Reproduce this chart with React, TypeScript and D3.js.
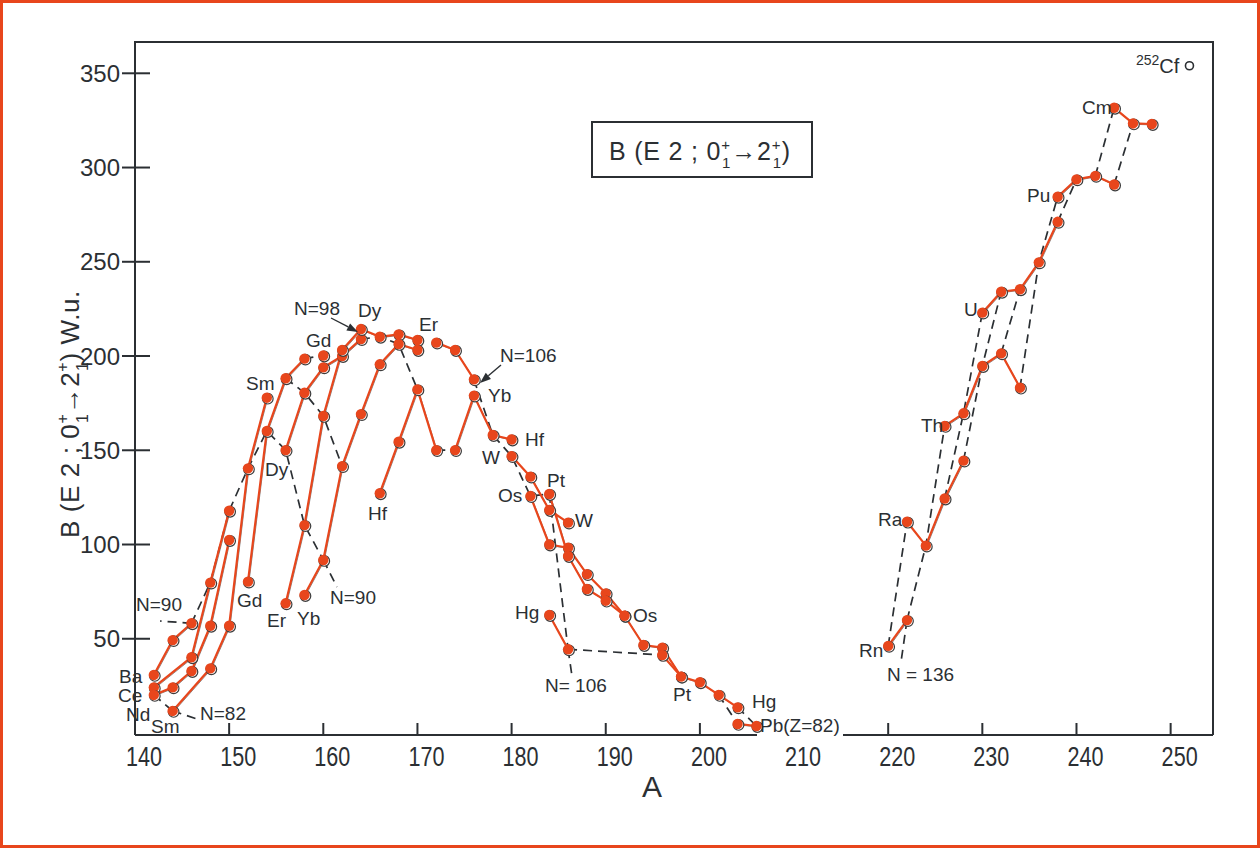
import React from "react";
import * as d3 from "d3";

type Pt = [number, number];

// ── B(E2; 0+ -> 2+) in W.u., one array per isotope chain: [A, B(E2)] ──
const BA: Pt[] = [[142, 30.8], [144, 49.3], [146, 58.2]];
const CE: Pt[] = [[142, 24.2], [146, 40.2], [148, 79.8], [150, 117.9]];
const ND: Pt[] = [[142, 20.2], [144, 24.2], [146, 32.9], [148, 56.9], [150, 102.4]];
const SM: Pt[] = [[144, 11.7], [148, 34.3], [150, 56.9], [152, 140.4], [154, 177.9]];
const GD: Pt[] = [[152, 80.3], [154, 160.2], [156, 188.2], [158, 198.6]];
const GD_160: Pt[] = [[160, 200.3]];
const DY: Pt[] = [[156, 150.1], [158, 180.5], [160, 194], [162, 200], [164, 209]];
const ER: Pt[] = [[156, 68.8], [158, 110.3], [160, 168.2], [162, 203.2], [164, 214.3], [166, 210.2], [168, 211.5], [170, 208.5]];
const YB: Pt[] = [[158, 73.2], [160, 91.8], [162, 141.6], [164, 169.2], [166, 195.6], [168, 206.4], [170, 203.2]];
const YB_HEAVY: Pt[] = [[172, 207.1], [174, 203.2], [176, 187.6]];
const HF_LIGHT: Pt[] = [[166, 127.2], [168, 154.5], [170, 182.3], [172, 150.1]];
const HF_HEAVY: Pt[] = [[174, 150.1], [176, 179], [178, 158.1], [180, 155.7]];
const W_: Pt[] = [[180, 146.9], [182, 136], [184, 118.3], [186, 111.6]];
const OS: Pt[] = [[182, 125.7], [184, 100], [186, 98.3], [188, 84.3], [190, 74.1], [192, 62.2]];
const PT: Pt[] = [[184, 126.8], [186, 93.9], [188, 76.4], [190, 70.2], [192, 62.2], [194, 46.7], [196, 45.3], [198, 29.9]];
const HG_LIGHT: Pt[] = [[184, 62.6], [186, 44.4]];
const HG_HEAVY: Pt[] = [[196, 41.4], [198, 29.9], [200, 26.9], [202, 20.2], [204, 13.6]];
const PB: Pt[] = [[204, 4.8], [206, 3.7]];

const RN: Pt[] = [[220, 46.2], [222, 59.9]];
const RA: Pt[] = [[222, 112.1], [224, 99.4], [226, 124.4], [228, 144.5]];
const TH: Pt[] = [[226, 162.9], [228, 169.6], [230, 194.7], [232, 201.4], [234, 183.2]];
const U_: Pt[] = [[230, 223], [232, 234.1], [234, 235.4], [236, 249.7], [238, 271.2]];
const PU: Pt[] = [[238, 284.5], [240, 293.7], [242, 295.6], [244, 291]];
const CM: Pt[] = [[244, 331.7], [246, 323.4], [248, 323.1]];
const CF_252: Pt = [252, 354];

const CHAINS = [BA, CE, ND, SM, GD, DY, ER, YB, YB_HEAVY, HF_LIGHT, HF_HEAVY, W_, OS, PT,
  HG_LIGHT, HG_HEAVY, PB, RN, RA, TH, U_, PU, CM];
const LONE = [GD_160];

// isotones (constant N) and gaps, drawn dashed through the chain points
const DASHED: Pt[][] = [
  [ND[0], SM[0]],                                                       // N=82
  [BA[2], CE[2], CE[3], SM[3], GD[1], DY[0], ER[1], YB[1]],             // N=90
  [GD[2], DY[1], ER[2], YB[2]],                                         // N=92
  [DY[4], ER[5], YB[5], HF_LIGHT[2]],                                   // N=98
  [YB_HEAVY[2], HF_HEAVY[2], W_[0], OS[0], PT[0], HG_LIGHT[1]],         // N=106
  [GD[3], GD_160[0]],
  [HF_LIGHT[3], HF_HEAVY[0]],
  [HG_LIGHT[1], HG_HEAVY[0]],
  [HG_HEAVY[3], PB[0]],
  [HG_HEAVY[4], PB[1]],
  [RN[0], RA[0]],
  [RN[1], RA[1], TH[0]],
  [RA[2], TH[1], U_[0]],
  [RA[3], TH[2], U_[1]],
  [TH[3], U_[2]],
  [TH[4], U_[3], PU[0]],
  [U_[4], PU[1]],
  [PU[2], CM[0]],
  [PU[3], CM[1]],
];

const X_TICKS = [140, 150, 160, 170, 180, 190, 200, 210, 220, 230, 240, 250];
const X_TICK_MARKS = [150, 160, 170, 180, 190, 200, 220, 230, 240, 250];
const Y_TICKS = [50, 100, 150, 200, 250, 300, 350];

// element / isotone labels (left, baseline in px)
const LABELS: { t: string; x: number; y: number }[] = [
  { t: "Ba", x: 119, y: 683 }, { t: "Ce", x: 118, y: 702 }, { t: "Nd", x: 126, y: 721 },
  { t: "Sm", x: 151, y: 733 }, { t: "N=82", x: 200, y: 720 }, { t: "N=90", x: 136, y: 611 },
  { t: "Gd", x: 237, y: 607 }, { t: "Er", x: 267, y: 627 }, { t: "Yb", x: 297, y: 625 },
  { t: "N=90", x: 330, y: 604 }, { t: "Sm", x: 246, y: 390 }, { t: "Dy", x: 265, y: 476 },
  { t: "Gd", x: 306, y: 347 }, { t: "N=98", x: 294, y: 315 }, { t: "Dy", x: 358, y: 317 },
  { t: "Er", x: 419, y: 331 }, { t: "Hf", x: 368, y: 520 }, { t: "N=106", x: 500, y: 362 },
  { t: "Yb", x: 488, y: 402 }, { t: "Hf", x: 525, y: 446 }, { t: "W", x: 482, y: 464 },
  { t: "Os", x: 498, y: 502 }, { t: "Pt", x: 547, y: 487 }, { t: "W", x: 575, y: 527 },
  { t: "Hg", x: 515, y: 619 }, { t: "N= 106", x: 545, y: 692 }, { t: "Os", x: 633, y: 622 },
  { t: "Pt", x: 673, y: 701 }, { t: "Hg", x: 752, y: 708 }, { t: "Pb(Z=82)", x: 760, y: 732 },
  { t: "Rn", x: 859, y: 657 }, { t: "N = 136", x: 887, y: 681 }, { t: "Ra", x: 878, y: 526 },
  { t: "Th", x: 921, y: 432 }, { t: "U", x: 964, y: 316 }, { t: "Pu", x: 1027, y: 202 },
  { t: "Cm", x: 1082, y: 114 },
];

const ORANGE = "#e8461c";
const INK = "#2b2f33";
const FONT = "Liberation Sans, Arial, sans-serif";

const x = d3.scaleLinear().domain([140, 254.5]).range([135, 1213]);
const y = d3.scaleLinear().domain([0, 366.6]).range([733, 42]);
const line = d3.line<Pt>().x(d => x(d[0])).y(d => y(d[1]));

const Arrow = ({ x1, y1, x2, y2 }: { x1: number; y1: number; x2: number; y2: number }) => {
  const a = Math.atan2(y2 - y1, x2 - x1);
  const L = 11, w = 4;
  const bx = x2 - L * Math.cos(a), by = y2 - L * Math.sin(a);
  const p = `M${x2},${y2}L${bx - w * Math.sin(a)},${by + w * Math.cos(a)}L${bx + w * Math.sin(a)},${by - w * Math.cos(a)}Z`;
  return (
    <g>
      <line x1={x1} y1={y1} x2={bx} y2={by} stroke={INK} strokeWidth={1.4} />
      <path d={p} fill={INK} />
    </g>
  );
};

const Leader = ({ from, tx, ty }: { from: Pt; tx: number; ty: number }) => (
  <line x1={x(from[0])} y1={y(from[1])} x2={tx} y2={ty}
    stroke={INK} strokeWidth={1.7} strokeDasharray="9,6" />
);

// B(E2; 0_1^+ -> 2_1^+) with stacked sub/superscripts
const TitleSpans = ({ size }: { size: number }) => {
  const s = Math.round(size * 0.6);
  const up = size * 0.42, down = size * 0.75;
  const back = -s * 0.58;
  return (
    <>
      <tspan>B (E 2 ; 0</tspan>
      <tspan fontSize={s} dy={-up}>+</tspan>
      <tspan fontSize={s} dx={back} dy={down}>1</tspan>
      <tspan dy={up - down} fontWeight="bold">→</tspan>
      <tspan>2</tspan>
      <tspan fontSize={s} dy={-up}>+</tspan>
      <tspan fontSize={s} dx={back} dy={down}>1</tspan>
      <tspan dy={up - down}>)</tspan>
    </>
  );
};

export default function App() {
  const allPts: Pt[] = [...CHAINS.flat(), ...LONE.flat()];
  return (
    <svg width={1260} height={848} style={{ position: "absolute", left: 0, top: 0, background: "#fff" }}
      fontFamily={FONT}>
      <rect x={1.5} y={1.5} width={1257} height={845} fill="#fff" stroke={ORANGE} strokeWidth={3} />

      {/* ── frame & axes ─────────────────────────────────── */}
      <g stroke={INK} strokeWidth={2} fill="none">
        <path d={`M135,735V42H1213V735`} />
        <line x1={135} y1={735} x2={757} y2={735} />
        <line x1={843} y1={735} x2={1213} y2={735} />
        {Y_TICKS.map(v => <line key={v} x1={122} x2={150} y1={y(v)} y2={y(v)} />)}
        {X_TICK_MARKS.map(v => <line key={v} x1={x(v)} x2={x(v)} y1={735} y2={723} />)}
      </g>
      {Y_TICKS.map(v => (
        <text key={v} x={120} y={y(v) + 8.5} textAnchor="end" fontSize={24} fill={INK}>{v}</text>
      ))}
      {X_TICKS.map(v => (
        <text key={v} transform={`translate(${x(v) + 9},766) scale(0.8,1)`} textAnchor="middle"
          fontSize={27} fill={INK}>{v}</text>
      ))}
      <text x={652} y={797} textAnchor="middle" fontSize={30} fill={INK}>A</text>
      <text transform="translate(79,414) rotate(-90)" textAnchor="middle" fontSize={26} fill={INK}
        letterSpacing={0.6}>
        <TitleSpans size={26} />
        <tspan> W.u.</tspan>
      </text>

      {/* ── legend box ───────────────────────────────────── */}
      <rect x={592} y={122} width={220} height={55} fill="none" stroke={INK} strokeWidth={2} />
      <text x={609} y={160} fontSize={25} fill={INK} letterSpacing={0.8}><TitleSpans size={25} /></text>

      {/* ── isotone dashed lines ─────────────────────────── */}
      <g fill="none" stroke={INK} strokeWidth={1.7} strokeDasharray="9,6">
        {DASHED.map((d, i) => <path key={i} d={line(d) || ""} />)}
      </g>
      <Leader from={BA[2]} tx={160} ty={621} />
      <Leader from={SM[0]} tx={197} ty={719} />
      <Leader from={YB[1]} tx={337} ty={587} />
      <Leader from={HG_LIGHT[1]} tx={572} ty={676} />
      <Leader from={RN[1]} tx={901} ty={662} />

      {/* ── isotope chains ───────────────────────────────── */}
      <g fill="none">
        {CHAINS.map((c, i) => (
          <path key={"s" + i} d={line(c) || ""} transform="translate(0.9,0.9)" stroke="#555" strokeWidth={1} opacity={0.7} />
        ))}
        {CHAINS.map((c, i) => (
          <path key={"c" + i} d={line(c) || ""} stroke={ORANGE} strokeWidth={2.2} strokeLinejoin="round" />
        ))}
      </g>
      <g>
        {allPts.map((d, i) => (
          <g key={i}>
            <circle cx={x(d[0]) + 1} cy={y(d[1]) + 1} r={5.3} fill="#fff" stroke="#3c3c3c" strokeWidth={1.2} />
            <circle cx={x(d[0])} cy={y(d[1])} r={5.2} fill={ORANGE} />
          </g>
        ))}
      </g>
      <circle cx={x(CF_252[0])} cy={y(CF_252[1])} r={4} fill="#fff" stroke={INK} strokeWidth={1.6} />
      <text x={1136} y={73} fontSize={20} fill={INK}>
        <tspan fontSize={14} dy={-8}>252</tspan><tspan dy={8}>Cf</tspan>
      </text>

      {/* ── labels & arrows ──────────────────────────────── */}
      {LABELS.map((l, i) => (
        <text key={i} x={l.x} y={l.y} fontSize={19} fill={INK}>{l.t}</text>
      ))}
      <Arrow x1={331} y1={318} x2={358} y2={332} />
      <Arrow x1={501} y1={365} x2={480} y2={383} />
    </svg>
  );
}
